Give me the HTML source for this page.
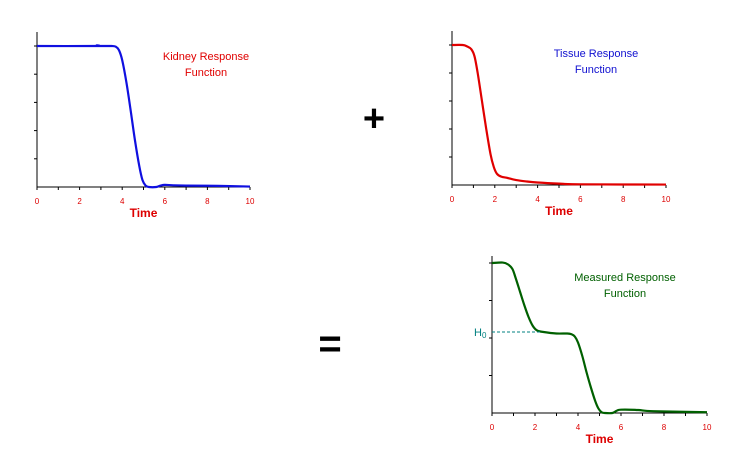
<!DOCTYPE html>
<html><head><meta charset="utf-8"><style>
body{margin:0;background:#fff;width:742px;height:461px;overflow:hidden}
svg text{font-family:"Liberation Sans",sans-serif}
</style></head><body>
<svg id="s" width="742" height="461">
<text x="374" y="131" font-size="38" font-weight="bold" text-anchor="middle">+</text>
<text x="330" y="357" font-size="40" font-weight="bold" text-anchor="middle">=</text>
</svg>
<script>
const ticksX=[0,2,4,6,8,10];
const kidneyT=[0,2.7,2.8,2.9,3.5,3.7,3.85,4,4.2,4.4,4.6,4.8,4.95,5.1,5.25,5.6,5.8,6,6.4,7,8.5,10];
const kidneyV=[1,1,1.005,1,1,0.995,0.97,0.9,0.74,0.54,0.33,0.15,0.05,0.01,0,0,0.01,0.015,0.012,0.01,0.008,0.003];
const tissueT=[0,0.5,0.7,0.9,1.05,1.2,1.4,1.6,1.8,1.95,2.1,2.3,2.6,3,3.5,4,5,6,10];
const tissueV=[1,1,0.99,0.97,0.92,0.8,0.6,0.4,0.22,0.13,0.08,0.06,0.05,0.035,0.025,0.018,0.01,0.005,0.003];
const measT=[0,0.5,0.75,0.95,1.1,1.3,1.5,1.7,1.9,2.1,2.4,3,3.5,3.7,3.85,4,4.2,4.4,4.6,4.8,4.95,5.1,5.25,5.6,5.8,6,6.8,7.5,10];
const measV=[1,1.003,0.99,0.96,0.9,0.81,0.72,0.64,0.58,0.55,0.54,0.53,0.53,0.525,0.51,0.47,0.38,0.27,0.17,0.08,0.03,0.005,0,0,0.015,0.022,0.02,0.012,0.005];
const h0=0.54;
const S=document.getElementById('s'),NS='http://www.w3.org/2000/svg';
function el(t,a){const e=document.createElementNS(NS,t);for(const k in a)e.setAttribute(k,a[k]);S.appendChild(e);return e;}
function smooth(P){let d='M'+P[0][0]+','+P[0][1];
 for(let i=0;i<P.length-1;i++){const p0=P[Math.max(i-1,0)],p1=P[i],p2=P[i+1],p3=P[Math.min(i+2,P.length-1)];
  const c1=[p1[0]+(p2[0]-p0[0])/6,p1[1]+(p2[1]-p0[1])/6],c2=[p2[0]-(p3[0]-p1[0])/6,p2[1]-(p3[1]-p1[1])/6];
  d+=' C'+c1.join(',')+' '+c2.join(',')+' '+p2.join(',');}
 return d;}
function chart(c){
 const sx=t=>c.x0+(c.x1-c.x0)*t/10, sy=v=>c.yb-(c.yb-c.y1)*v;
 let a=el('line',{x1:c.x0,y1:c.top,x2:c.x0,y2:c.yb,stroke:'#000'});
 
 a=el('line',{x1:c.x0,y1:c.yb,x2:c.x1,y2:c.yb,stroke:'#000'});
 
 for(let i=1;i<=c.ny;i++){const y=c.yb-(c.yb-c.y1)*i/c.ny;el('line',{x1:c.x0-3,y1:y,x2:c.x0,y2:y,stroke:'#000'});}
 for(let i=0;i<=10;i++){const x=sx(i);el('line',{x1:x,y1:c.yb,x2:x,y2:c.yb+3,stroke:'#000'});}
 ticksX.forEach(t=>{const e=el('text',{x:sx(t),y:c.yb+17,'font-size':8,fill:'#d00','text-anchor':'middle'});e.textContent=t;
  });
 const tt=el('text',{x:sx(5),y:c.yb+30,'font-size':12,'font-weight':'bold',fill:'#d00','text-anchor':'middle'});tt.textContent='Time';
 
 const p=el('path',{d:smooth(c.T.map((t,i)=>[sx(t),sy(c.V[i])])),fill:'none',stroke:c.col,'stroke-width':2.2,'stroke-linejoin':'round'});
 
 c.lbl.forEach((s,i)=>{const e=el('text',{x:c.lx,y:c.ly+i*16,'font-size':11,fill:c.lc,'text-anchor':'middle'});e.textContent=s;
  });
 return {sx,sy};
}
chart({n:'kidney',x0:37,x1:250,yb:187,y1:46,top:32,ny:5,T:kidneyT,V:kidneyV,col:'#1010e0',lbl:['Kidney Response','Function'],lc:'#e00000',lx:206,ly:60});
chart({n:'tissue',x0:452,x1:666,yb:185,y1:45,top:31,ny:5,T:tissueT,V:tissueV,col:'#e00000',lbl:['Tissue Response','Function'],lc:'#1010d0',lx:596,ly:57});
const m=chart({n:'measured',x0:492,x1:707,yb:413,y1:263,top:256,ny:4,T:measT,V:measV,col:'#006000',lbl:['Measured Response','Function'],lc:'#006000',lx:625,ly:281});
const hl=el('line',{x1:492,y1:m.sy(h0),x2:m.sx(2.3),y2:m.sy(h0),stroke:'#008080','stroke-dasharray':'3,2'});


const ht=el('text',{x:474,y:m.sy(h0)+4,'font-size':11,fill:'#008080'});ht.innerHTML='H<tspan font-size="8" dy="2">0</tspan>';


</script>
</body></html>
